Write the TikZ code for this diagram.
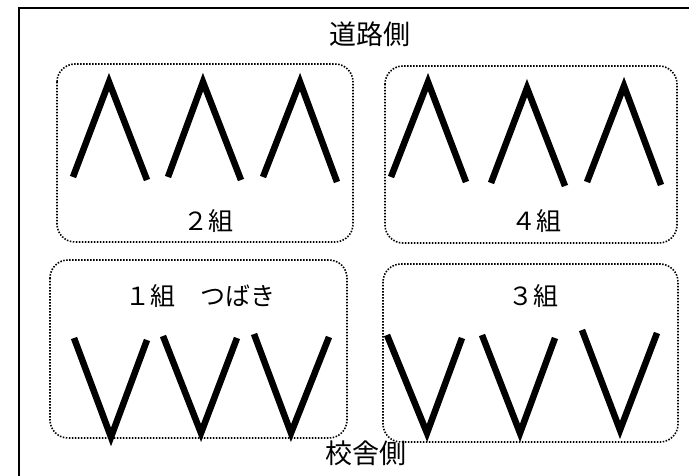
\documentclass[tikz,border=0pt]{standalone}
\usepackage{fontspec}
\newfontfamily\jp{Noto Sans CJK JP}
\begin{document}
\begin{tikzpicture}[x=1pt,y=-1pt,
  frame/.style={draw=black,line width=2pt},
  grp/.style={draw=black,line width=1.6pt,dash pattern=on 1.5pt off 1.5pt,rounded corners=18pt},
  chev/.style={draw=black,line width=6.5pt,line join=miter,line cap=butt},
  side/.style={font=\jp\fontsize{27}{30}\selectfont,inner sep=0pt},
  lab/.style={font=\jp\fontsize{25}{28}\selectfont,inner sep=0pt}]
\useasboundingbox (0,0) rectangle (689,476);
\clip (0,0) rectangle (689,476);
\fill[white] (0,0) rectangle (689,476);
% outer frame (extends beyond right and bottom edges)
\draw[frame] (18.5,8.5) rectangle (720,520);
% group boxes
\draw[grp] (57,64) rectangle (353,242);
\draw[grp] (385,66) rectangle (677,243);
\draw[grp] (50,260) rectangle (347,438);
\draw[grp] (383,264) rectangle (678,442);
% Lambda chevrons (2組)
\draw[chev] (73,177) -- (109,82) -- (147,180);
\draw[chev] (168,177) -- (203,82) -- (241,180);
\draw[chev] (263,177) -- (300,82) -- (337,182);
% Lambda chevrons (4組)
\draw[chev] (391,177) -- (428,82) -- (466,182);
\draw[chev] (491,183) -- (527,88) -- (565,186);
\draw[chev] (587,182) -- (624,86) -- (661,185);
% V chevrons (1組)
\draw[chev] (74,338) -- (111,437) -- (147,340);
\draw[chev] (163,336) -- (201,433) -- (237,338);
\draw[chev] (254,334) -- (291,433) -- (329,337);
% V chevrons (3組)
\draw[chev] (387,335) -- (427,433) -- (462,338);
\draw[chev] (482,335) -- (520,433) -- (555,338);
\draw[chev] (582,330) -- (620,430) -- (657,333);
% texts
\node[side] (road) at (370,34) {道路側};
\node[side] (school) at (366,453) {校舎側};
\node[lab] (g2) at (208,221) {２組};
\node[lab] (g4) at (536,221) {４組};
\node[lab] (g1) at (200,296) {１組　つばき};
\node[lab] (g3) at (533,296) {３組};
\end{tikzpicture}
\end{document}
